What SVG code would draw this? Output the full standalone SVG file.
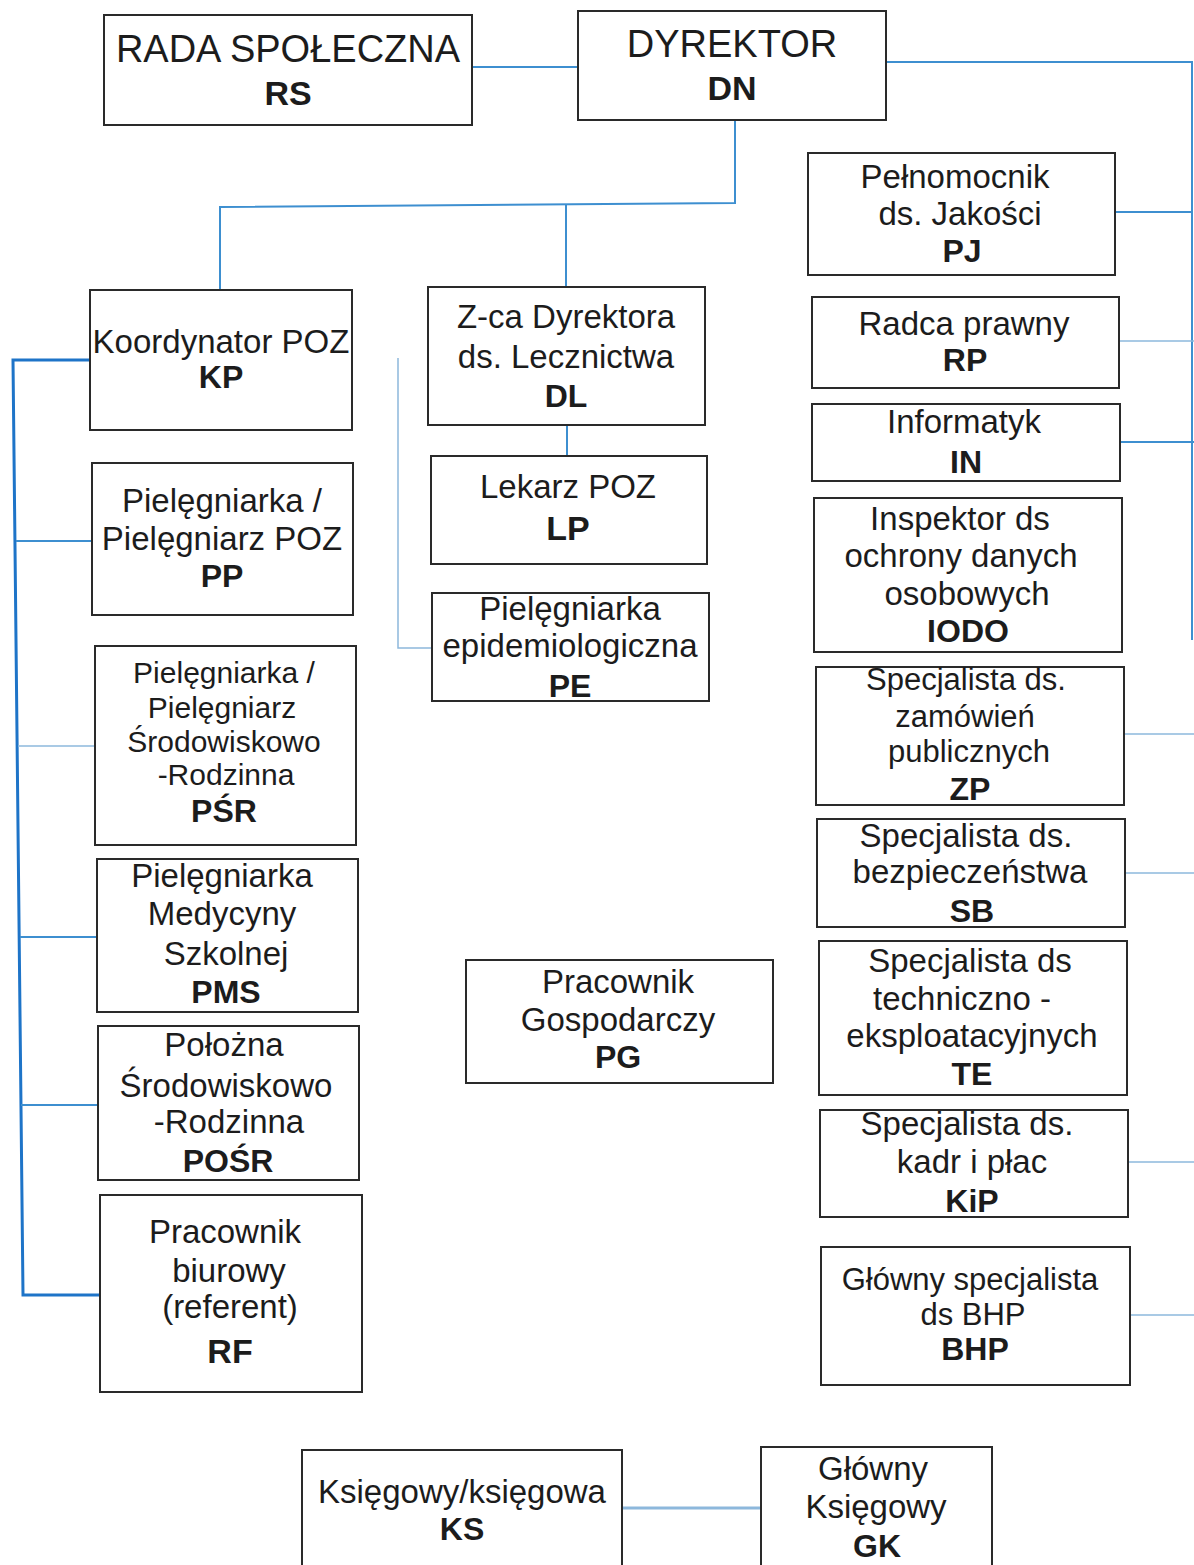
<svg xmlns="http://www.w3.org/2000/svg" width="1194" height="1565" viewBox="0 0 1194 1565">
<style>
.box{fill:#fff;stroke:#2a2a2a;stroke-width:2}
text{font-family:"Liberation Sans",Arial,sans-serif;fill:#1c1c1c;text-anchor:middle}
.t{font-size:33px}
.s{font-size:30px}
.m{font-size:31px}
.b{font-weight:bold;font-size:32px}
.big{font-size:38px}
.bb{font-weight:bold;font-size:34px}
.c{fill:none;stroke:#3d8fd0;stroke-width:2}
.cl{fill:none;stroke:#8db8dc;stroke-width:1.5}
.bus{fill:none;stroke:#1e74c8;stroke-width:3}
</style>
<rect width="1194" height="1565" fill="#fff"/>
<g id="connectors">
<line class="c" x1="472" y1="67" x2="578" y2="67"/>
<polyline class="c" points="886,62 1192,62 1192,640"/>
<polyline class="c" points="735,120 735,203 220,207 220,290"/>
<line class="c" x1="566" y1="205" x2="566" y2="287"/>
<line class="c" x1="567" y1="425" x2="567" y2="455"/>
<polyline class="cl" points="398,358 398,648 432,648"/>
<polyline class="bus" points="92,360 13,360 23,1295 100,1295"/>
<line class="c" x1="16" y1="541" x2="92" y2="541"/>
<line class="cl" x1="18" y1="746" x2="95" y2="746"/>
<line class="c" x1="20" y1="937" x2="97" y2="937"/>
<line class="c" x1="21" y1="1105" x2="98" y2="1105"/>
<line class="c" x1="1115" y1="212" x2="1192" y2="212"/>
<line class="cl" x1="1119" y1="341" x2="1194" y2="341"/>
<line class="c" x1="1120" y1="442" x2="1194" y2="442"/>
<line class="cl" x1="1123" y1="734" x2="1194" y2="734"/>
<line class="cl" x1="1125" y1="873" x2="1194" y2="873"/>
<line class="cl" x1="1128" y1="1162" x2="1194" y2="1162"/>
<line class="cl" x1="1130" y1="1315" x2="1194" y2="1315"/>
<line class="cl" x1="622" y1="1508" x2="761" y2="1508" style="stroke-width:3"/>
</g>
<g id="RS"><rect class="box" x="104" y="15" width="368" height="110"/>
<text class="big" x="288" y="62">RADA SPOŁECZNA</text><text class="bb" x="288" y="105">RS</text></g>
<g id="DN"><rect class="box" x="578" y="11" width="308" height="109"/>
<text class="big" x="732" y="57">DYREKTOR</text><text class="bb" x="732" y="100">DN</text></g>
<g id="KP"><rect class="box" x="90" y="290" width="262" height="140"/>
<text class="t" x="221" y="353">Koordynator POZ</text><text class="b" x="221" y="388">KP</text></g>
<g id="DL"><rect class="box" x="428" y="287" width="277" height="138"/>
<text class="t" x="566" y="328">Z-ca Dyrektora</text><text class="t" x="566" y="368">ds. Lecznictwa</text><text class="b" x="566" y="407">DL</text></g>
<g id="LP"><rect class="box" x="431" y="456" width="276" height="108"/>
<text class="t" x="568" y="498">Lekarz POZ</text><text class="bb" x="568" y="540">LP</text></g>
<g id="PE"><rect class="box" x="432" y="593" width="277" height="108"/>
<text class="t" x="570" y="620">Pielęgniarka</text><text class="t" x="570" y="657">epidemiologiczna</text><text class="b" x="570" y="697">PE</text></g>
<g id="PP"><rect class="box" x="92" y="463" width="261" height="152"/>
<text class="t" x="222" y="512">Pielęgniarka /</text><text class="t" x="222" y="550">Pielęgniarz POZ</text><text class="b" x="222" y="587">PP</text></g>
<g id="PSR"><rect class="box" x="95" y="646" width="261" height="199"/>
<text class="s" x="224" y="683">Pielęgniarka /</text><text class="s" x="222" y="718">Pielęgniarz</text><text class="s" x="224" y="752">Środowiskowo</text><text class="s" x="226" y="785">-Rodzinna</text><text class="b" x="224" y="822">PŚR</text></g>
<g id="PMS"><rect class="box" x="97" y="859" width="261" height="153"/>
<text class="t" x="222" y="887">Pielęgniarka</text><text class="t" x="222" y="925">Medycyny</text><text class="t" x="226" y="965">Szkolnej</text><text class="b" x="226" y="1003">PMS</text></g>
<g id="POSR"><rect class="box" x="98" y="1026" width="261" height="154"/>
<text class="t" x="224" y="1056">Położna</text><text class="t" x="226" y="1097">Środowiskowo</text><text class="t" x="229" y="1133">-Rodzinna</text><text class="b" x="228" y="1172">POŚR</text></g>
<g id="RF"><rect class="box" x="100" y="1195" width="262" height="197"/>
<text class="t" x="225" y="1243">Pracownik</text><text class="t" x="229" y="1282">biurowy</text><text class="t" x="230" y="1318">(referent)</text><text class="bb" x="230" y="1363">RF</text></g>
<g id="PG"><rect class="box" x="466" y="960" width="307" height="123"/>
<text class="t" x="618" y="993">Pracownik</text><text class="t" x="618" y="1031">Gospodarczy</text><text class="b" x="618" y="1068">PG</text></g>
<g id="PJ"><rect class="box" x="808" y="153" width="307" height="122"/>
<text class="t" x="955" y="188">Pełnomocnik</text><text class="t" x="960" y="225">ds. Jakości</text><text class="b" x="962" y="262">PJ</text></g>
<g id="RP"><rect class="box" x="812" y="297" width="307" height="91"/>
<text class="t" x="964" y="335">Radca prawny</text><text class="b" x="965" y="371">RP</text></g>
<g id="IN"><rect class="box" x="812" y="404" width="308" height="77"/>
<text class="t" x="964" y="433">Informatyk</text><text class="b" x="966" y="473">IN</text></g>
<g id="IODO"><rect class="box" x="814" y="498" width="308" height="154"/>
<text class="t" x="960" y="530">Inspektor ds</text><text class="t" x="961" y="567">ochrony danych</text><text class="t" x="967" y="605">osobowych</text><text class="b" x="968" y="642">IODO</text></g>
<g id="ZP"><rect class="box" x="816" y="667" width="308" height="138"/>
<text class="m" x="966" y="690">Specjalista ds.</text><text class="m" x="965" y="727">zamówień</text><text class="m" x="969" y="762">publicznych</text><text class="b" x="970" y="800">ZP</text></g>
<g id="SB"><rect class="box" x="817" y="819" width="308" height="108"/>
<text class="t" x="966" y="847">Specjalista ds.</text><text class="t" x="970" y="883">bezpieczeństwa</text><text class="b" x="972" y="922">SB</text></g>
<g id="TE"><rect class="box" x="819" y="941" width="308" height="154"/>
<text class="t" x="970" y="972">Specjalista ds</text><text class="t" x="962" y="1010">techniczno -</text><text class="t" x="972" y="1047">eksploatacyjnych</text><text class="b" x="972" y="1085">TE</text></g>
<g id="KiP"><rect class="box" x="820" y="1110" width="308" height="107"/>
<text class="t" x="967" y="1135">Specjalista ds.</text><text class="t" x="972" y="1173">kadr i płac</text><text class="b" x="972" y="1212">KiP</text></g>
<g id="BHP"><rect class="box" x="821" y="1247" width="309" height="138"/>
<text class="m" x="970" y="1290">Główny specjalista</text><text class="m" x="973" y="1325">ds BHP</text><text class="b" x="975" y="1360">BHP</text></g>
<g id="KS"><rect class="box" x="302" y="1450" width="320" height="125"/>
<text class="t" x="462" y="1503">Księgowy/księgowa</text><text class="b" x="462" y="1540">KS</text></g>
<g id="GK"><rect class="box" x="761" y="1447" width="231" height="128"/>
<text class="t" x="873" y="1480">Główny</text><text class="t" x="876" y="1518">Księgowy</text><text class="b" x="877" y="1557">GK</text></g>
</svg>
